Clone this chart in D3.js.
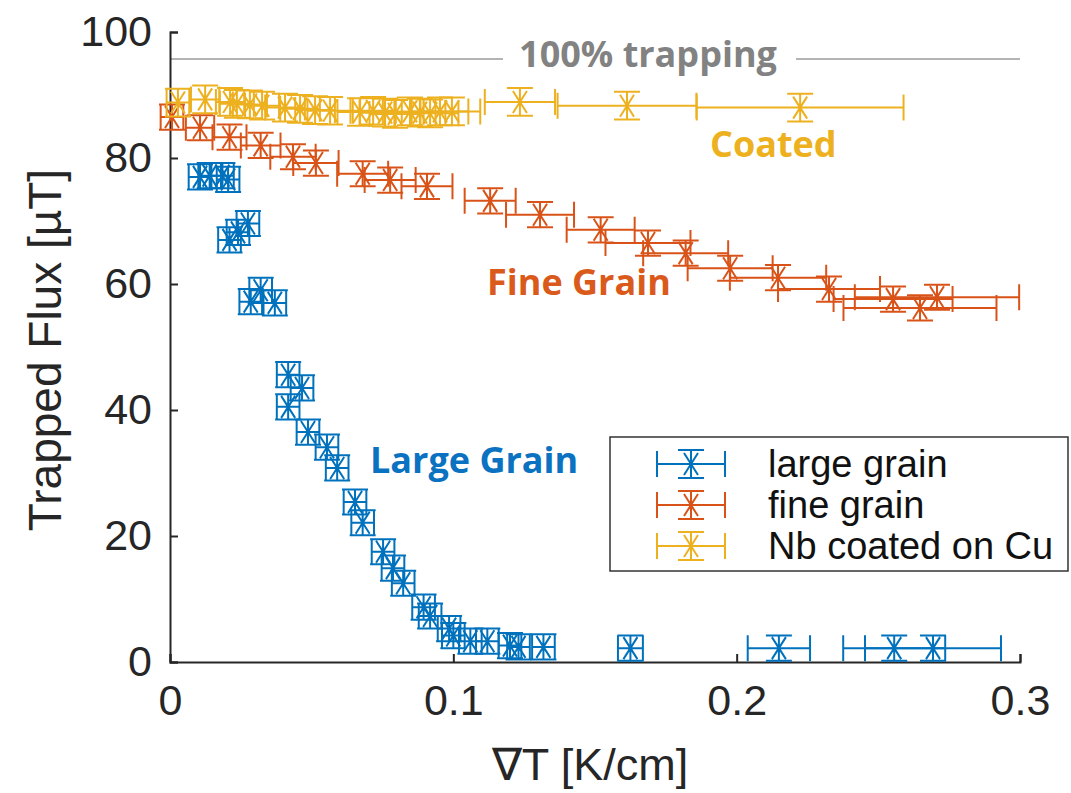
<!DOCTYPE html>
<html>
<head>
<meta charset="utf-8">
<script src="https://cdnjs.cloudflare.com/ajax/libs/d3/7.8.5/d3.min.js"></script>
<style>
  body { margin: 0; background: #fff; }
  svg { display: block; }
</style>
</head>
<body>
<script>
// Axis ticks
const xTicks = [0, 0.1, 0.2, 0.3];
const yTicks = [0, 20, 40, 60, 80, 100];
const trappingLevel = 95.7;

// large grain (blue)
const largeX = [0.0106, 0.0140, 0.0185, 0.0205, 0.0210, 0.0240, 0.0275, 0.0285, 0.0320, 0.0370,
  0.0417, 0.0466, 0.0417, 0.0487, 0.0554, 0.0590, 0.0653, 0.0680, 0.0752, 0.0787,
  0.0823, 0.0895, 0.0918, 0.0985, 0.1000, 0.1060, 0.1120, 0.1200, 0.1230, 0.1318,
  0.1625, 0.2149, 0.2556, 0.2693];
const largeY = [77.0, 77.2, 77.2, 76.6, 67.0, 68.2, 69.6, 57.2, 59.0, 57.0,
  45.6, 43.5, 40.5, 36.5, 34.1, 30.8, 25.4, 22.1, 17.5, 14.9,
  12.5, 8.7, 7.3, 5.3, 4.2, 3.3, 3.3, 2.6, 2.4, 2.4,
  2.2, 2.2, 2.2, 2.2];
const largeXErr = [0.004, 0.004, 0.004, 0.004, 0.004, 0.004, 0.004, 0.004, 0.004, 0.004,
  0.004, 0.004, 0.004, 0.004, 0.004, 0.004, 0.004, 0.004, 0.004, 0.004,
  0.004, 0.004, 0.004, 0.004, 0.004, 0.004, 0.004, 0.004, 0.004, 0.004,
  0.0044, 0.011, 0.018, 0.024];
const largeYErr = [2, 2, 2, 2, 2, 2, 2, 2, 2, 2,
  2, 2, 2, 2, 2, 2, 2, 2, 2, 2,
  2, 2, 2, 2, 2, 2, 2, 2, 2, 2,
  2, 2, 2, 2];

// fine grain (orange)
const fineX = [0.0007, 0.0106, 0.0210, 0.0320, 0.0434, 0.0515, 0.0680, 0.0777, 0.0907, 0.1130,
  0.1306, 0.1520, 0.1687, 0.1820, 0.1977, 0.2146, 0.2326, 0.2552, 0.2647, 0.2707];
const fineY = [86.5, 84.8, 83.3, 82.0, 80.2, 79.2, 77.5, 76.5, 75.5, 73.2,
  71.0, 68.6, 66.5, 64.9, 62.5, 61.0, 59.2, 57.6, 56.2, 57.9];
const fineXErr = [0.004, 0.005, 0.006, 0.007, 0.008, 0.008, 0.009, 0.009, 0.009, 0.009,
  0.012, 0.012, 0.015, 0.015, 0.015, 0.017, 0.018, 0.021, 0.027, 0.029];
const fineYErr = [2, 2, 2, 2, 2, 2, 2, 2, 2, 2,
  2, 2, 2, 2, 2, 2, 2, 2, 2, 2];

// Nb coated on Cu (yellow)
const coatedX = [0.0028, 0.0124, 0.0212, 0.0236, 0.0282, 0.0325, 0.0406, 0.0459, 0.0512, 0.0565,
  0.0671, 0.0717, 0.0759, 0.0794, 0.0847, 0.0882, 0.0918, 0.0953, 0.0995, 0.1235,
  0.1613, 0.2224];
const coatedY = [88.8, 89.3, 88.9, 88.6, 88.5, 88.3, 88.0, 87.8, 87.6, 87.5,
  87.3, 87.5, 87.2, 87.0, 87.4, 87.2, 87.1, 87.4, 87.4, 88.9,
  88.3, 88.0];
const coatedXErr = [0.004, 0.005, 0.005, 0.006, 0.006, 0.006, 0.007, 0.007, 0.007, 0.008,
  0.008, 0.008, 0.009, 0.009, 0.009, 0.009, 0.010, 0.010, 0.010, 0.0124,
  0.0245, 0.0365];
const coatedYErr = [2.2, 2.2, 2.2, 2.2, 2.2, 2.2, 2.2, 2.2, 2.2, 2.2,
  2.2, 2.2, 2.2, 2.2, 2.2, 2.2, 2.2, 2.2, 2.2, 2.2,
  2.2, 2.2];

const series = [
  { name: "large grain", color: "#0072BD", x: largeX, y: largeY, xErr: largeXErr, yErr: largeYErr },
  { name: "fine grain", color: "#D95319", x: fineX, y: fineY, xErr: fineXErr, yErr: fineYErr },
  { name: "Nb coated on Cu", color: "#EDB120", x: coatedX, y: coatedY, xErr: coatedXErr, yErr: coatedYErr }
];

const width = 1071, height = 793;
const margin = { left: 170, right: 51, top: 32, bottom: 131 };
const cap = 13;       // half-length of error bar caps
const axisFont = "'Liberation Sans', Arial, Helvetica, sans-serif";
const noteFont = "'Open Sans', 'Noto Sans', sans-serif";

const svg = d3.select("body").append("svg")
  .attr("width", width)
  .attr("height", height);

const xScale = d3.scaleLinear().domain([0, 0.3]).range([margin.left, width - margin.right]);
const yScale = d3.scaleLinear().domain([0, 100]).range([height - margin.bottom, margin.top]);

// 100% trapping line
svg.append("line")
  .attr("x1", xScale(0)).attr("x2", xScale(0.3))
  .attr("y1", yScale(trappingLevel)).attr("y2", yScale(trappingLevel))
  .attr("stroke", "#b4b4b4").attr("stroke-width", 2);

// Axes (ticks pointing inward, no box)
const xAxis = svg.append("g")
  .attr("transform", `translate(0, ${yScale(0)})`)
  .call(d3.axisBottom(xScale).tickValues(xTicks).tickSize(-8).tickPadding(22)
    .tickFormat(d => d === 0 ? "0" : d3.format(".1f")(d)));
const yAxis = svg.append("g")
  .attr("transform", `translate(${xScale(0)}, 0)`)
  .call(d3.axisLeft(yScale).tickValues(yTicks).tickSize(-8).tickPadding(18));

[xAxis, yAxis].forEach(ax => {
  ax.select(".domain").attr("stroke", "#262626").attr("stroke-width", 2);
  ax.selectAll(".tick line").attr("stroke", "#262626").attr("stroke-width", 2);
  ax.selectAll(".tick text")
    .attr("fill", "#262626")
    .style("font-family", axisFont)
    .style("font-size", "43px");
});
xAxis.selectAll(".tick text").attr("dy", "0.71em");

// Axis labels
svg.append("text")
  .attr("x", 590).attr("y", 764).attr("dy", "0.35em")
  .attr("text-anchor", "middle")
  .attr("fill", "#262626")
  .style("font-family", axisFont).style("font-size", "45px")
  .text("∇T [K/cm]");

svg.append("text")
  .attr("transform", `translate(45, 350) rotate(-90)`)
  .attr("dy", "0.35em")
  .attr("text-anchor", "middle")
  .attr("fill", "#262626")
  .style("font-family", axisFont).style("font-size", "46px")
  .text("Trapped Flux [µT]");

// Error bar + asterisk marker drawn at a pixel position
const drawPoint = (g, cx, cy, x0, x1, y0, y1, color) => {
  const p = d3.path();
  // vertical bar with caps
  p.moveTo(cx, y0); p.lineTo(cx, y1);
  p.moveTo(cx - cap, y0); p.lineTo(cx + cap, y0);
  p.moveTo(cx - cap, y1); p.lineTo(cx + cap, y1);
  // horizontal bar with caps
  p.moveTo(x0, cy); p.lineTo(x1, cy);
  p.moveTo(x0, cy - cap); p.lineTo(x0, cy + cap);
  p.moveTo(x1, cy - cap); p.lineTo(x1, cy + cap);
  // asterisk
  p.moveTo(cx - 7, cy - 11); p.lineTo(cx + 7, cy + 11);
  p.moveTo(cx - 7, cy + 11); p.lineTo(cx + 7, cy - 11);
  p.moveTo(cx - 9, cy); p.lineTo(cx + 9, cy);
  g.append("path")
    .attr("d", p.toString())
    .attr("fill", "none")
    .attr("stroke", color)
    .attr("stroke-width", 2);
};

// Series
series.forEach(s => {
  const g = svg.append("g").attr("class", "series");
  s.x.forEach((xv, i) => {
    drawPoint(g,
      xScale(xv), yScale(s.y[i]),
      xScale(xv - s.xErr[i]), xScale(xv + s.xErr[i]),
      yScale(s.y[i] + s.yErr[i]), yScale(s.y[i] - s.yErr[i]),
      s.color);
  });
});

// "100% trapping" label with white background over the line
svg.append("rect")
  .attr("x", 503).attr("y", 38).attr("width", 293).attr("height", 40)
  .attr("fill", "#fff");
svg.append("text")
  .attr("x", 648).attr("y", 67)
  .attr("text-anchor", "middle")
  .attr("fill", "#828282")
  .style("font-family", noteFont).style("font-weight", 700).style("font-size", "36px")
  .text("100% trapping");

// Series annotations
const notes = [
  { text: "Coated", x: 710, y: 157, color: "#EDB120" },
  { text: "Fine Grain", x: 487, y: 295, color: "#DA5A1B" },
  { text: "Large Grain", x: 370, y: 473, color: "#0A72C0" }
];
svg.selectAll("text.note")
  .data(notes)
  .enter()
  .append("text")
  .attr("class", "note")
  .attr("x", d => d.x).attr("y", d => d.y)
  .attr("fill", d => d.color)
  .style("font-family", noteFont).style("font-weight", 700).style("font-size", "36px")
  .text(d => d.text);

// Legend
const legend = svg.append("g");
legend.append("rect")
  .attr("x", 610).attr("y", 437).attr("width", 458).attr("height", 134)
  .attr("fill", "#fff").attr("stroke", "#333").attr("stroke-width", 1.5);
series.forEach((s, i) => {
  const ly = 464 + i * 41;
  drawPoint(legend, 691, ly, 657, 725, ly - 14, ly + 14, s.color);
  legend.append("text")
    .attr("x", 768).attr("y", ly).attr("dy", "0.35em")
    .attr("fill", "#111")
    .style("font-family", axisFont).style("font-size", "38px")
    .text(s.name);
});
</script>
</body>
</html>
